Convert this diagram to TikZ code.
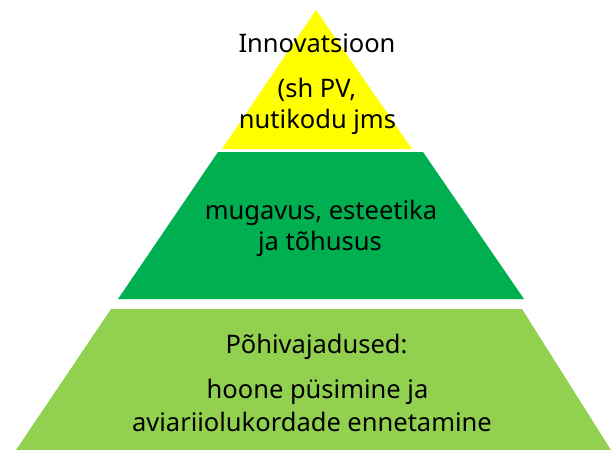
\documentclass[tikz,border=0pt]{standalone}
\usepackage{fontspec}
\setmainfont{Noto Sans}
\definecolor{tierYellow}{HTML}{FFFF00}
\definecolor{tierGreen}{HTML}{00B050}
\definecolor{tierLight}{HTML}{92D050}
\tikzset{
  tierline/.style={anchor=base, inner sep=0pt, font=\fontsize{25.5}{31}\selectfont}
}
\begin{document}
\begin{tikzpicture}[x=1pt, y=-1pt]
    \useasboundingbox (0,0) rectangle (611,450);

    % pyramid tiers
    \fill[tierYellow] (316,10) -- (412,149) -- (222,149) -- cycle;
    \fill[tierGreen] (218,152) -- (423,152) -- (524,299) -- (118,299) -- cycle;
    \fill[tierLight] (111,309) -- (522,309) -- (611,450) -- (16,450) -- cycle;

    \foreach \n/\x/\y/\txt in {inno/317/52/{Innovatsioon}, sh/317/97/{(sh PV,},
        nuti/317.5/128/{nutikodu jms},
        mug/321/219/{mugavus, esteetika}, toh/320/250/{ja tõhusus},
        pohi/316.5/353/{Põhivajadused:}, hoone/317.5/398/{hoone püsimine ja},
        avi/312/431/{aviariiolukordade ennetamine}} {
      \node[tierline] (\n) at (\x,\y) {\txt};
    }
\end{tikzpicture}
\end{document}
